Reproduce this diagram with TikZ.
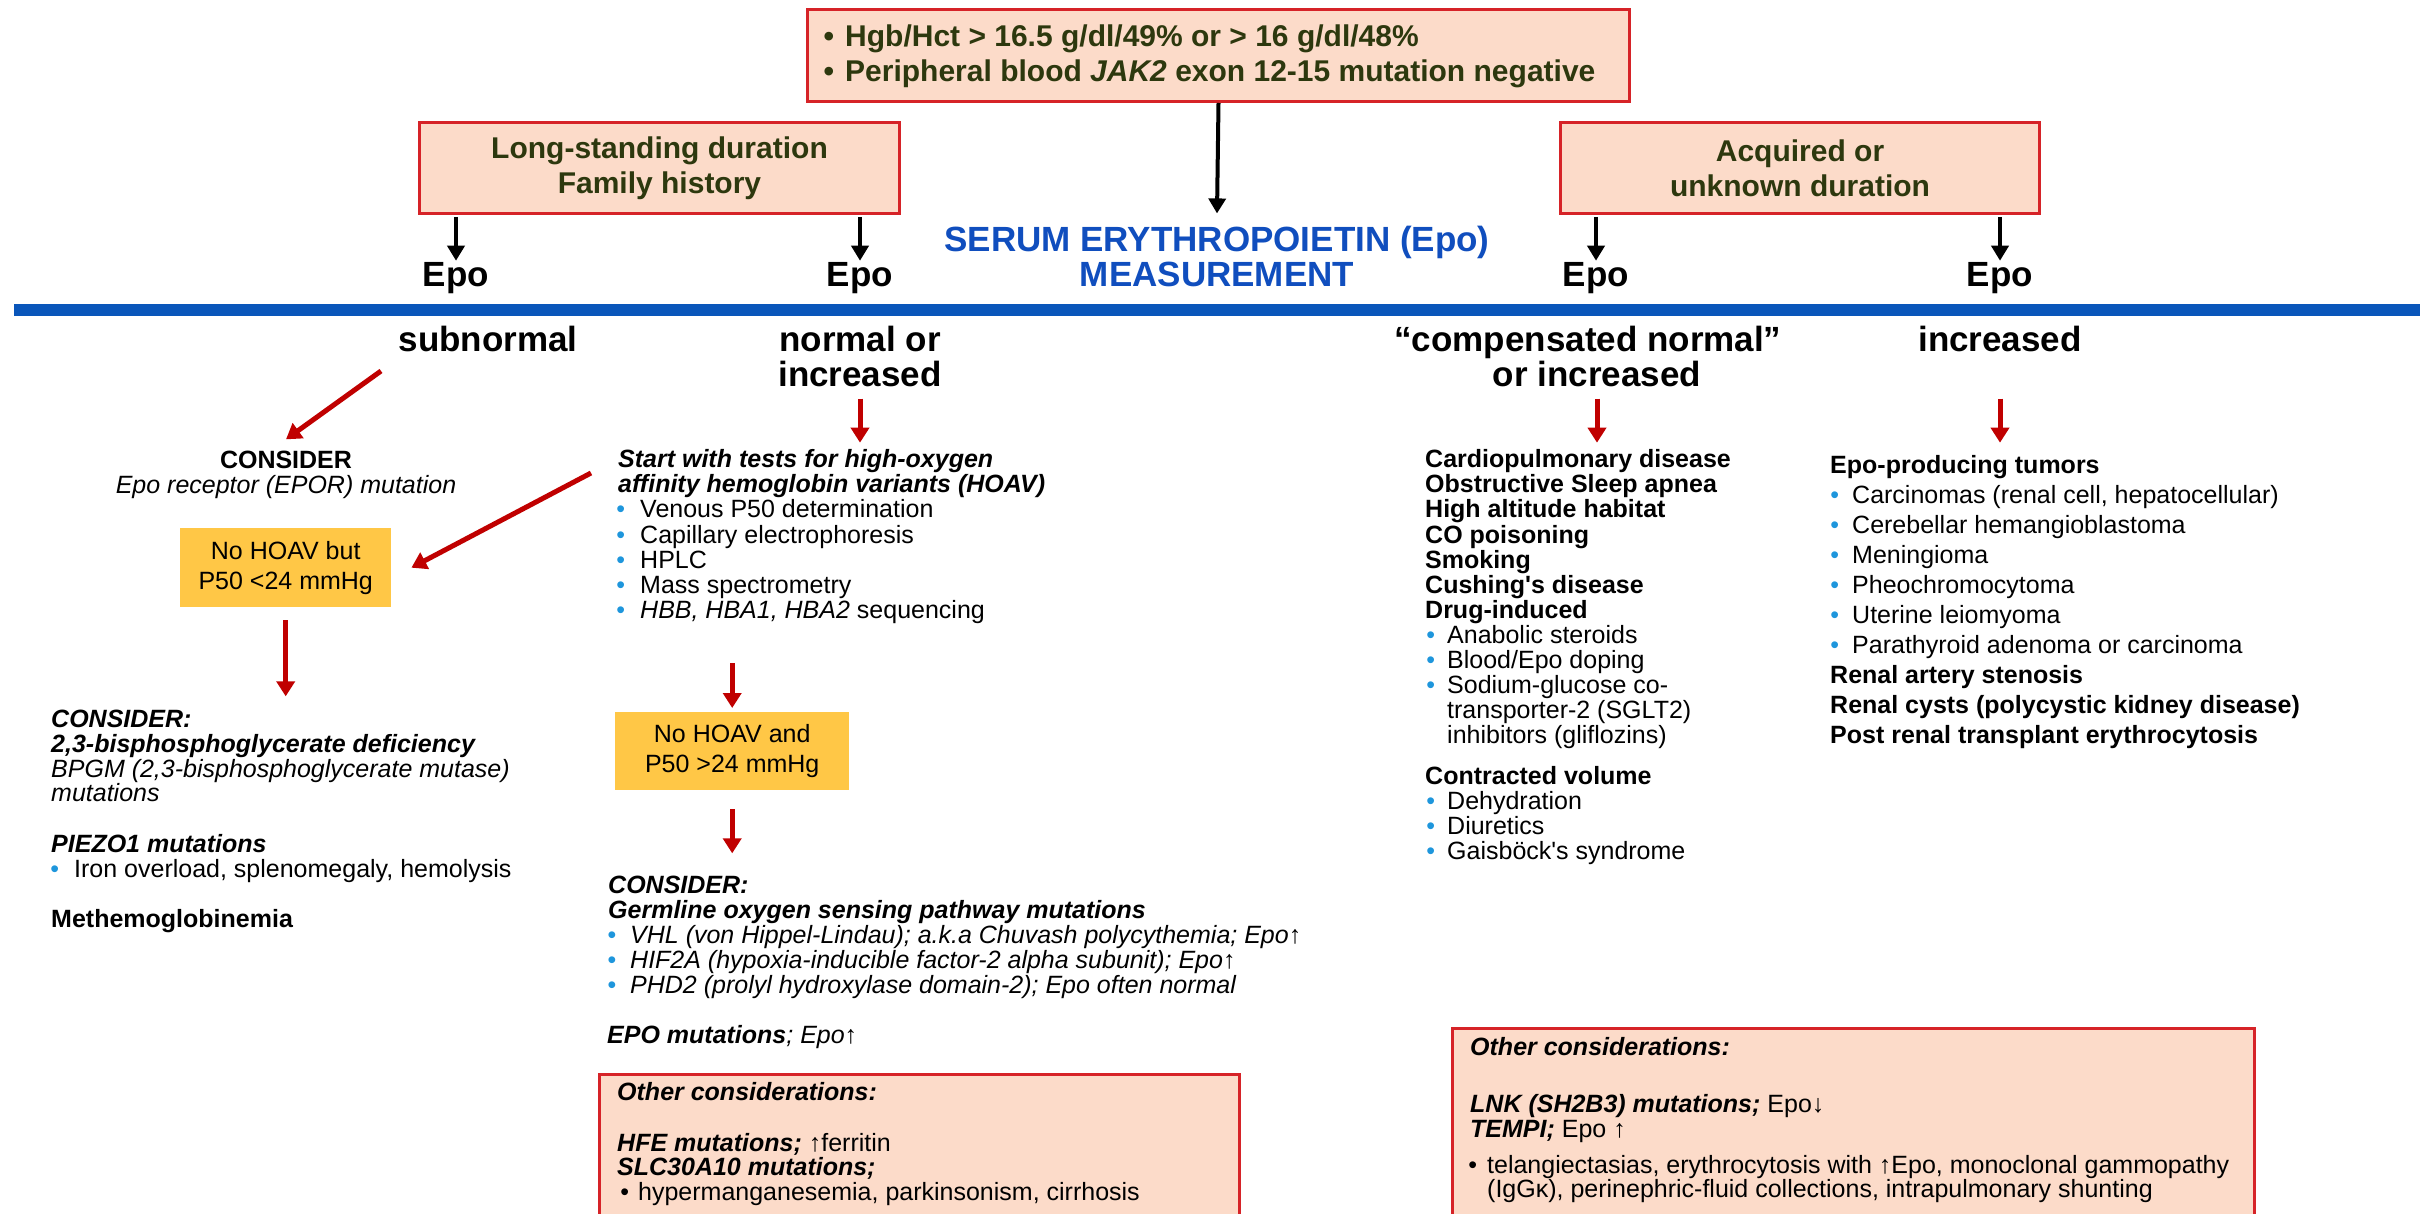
\documentclass[tikz,border=0pt]{standalone}
\usepackage{fontspec}
\setmainfont{Liberation Sans}[Ligatures=TeXOff]
\usetikzlibrary{arrows.meta,calc}
\definecolor{boxfill}{RGB}{252,219,201}
\definecolor{boxred}{RGB}{214,35,40}
\definecolor{olive}{RGB}{45,56,14}
\definecolor{goldbox}{RGB}{255,199,70}
\definecolor{redarr}{RGB}{192,0,0}
\definecolor{blueline}{RGB}{10,86,186}
\definecolor{bluetext}{RGB}{16,78,190}
\definecolor{bulblue}{RGB}{30,150,220}
\newcommand\myBody{\fontsize{25}{25}\selectfont}
\newcommand\myBodyL{\fontsize{25}{30}\selectfont}
\newcommand\myHead{\fontsize{35}{35}\selectfont\bfseries}
\newcommand\myBox{\fontsize{30}{35}\selectfont\bfseries}
\newcommand\bul[1][13pt]{\llap{\textcolor{bulblue}{•}\hspace{#1}}}
\newcommand\kbul[1][9pt]{\llap{•\hspace{#1}}}
\begin{document}
\begin{tikzpicture}[x=1pt,y=-1pt,
  lbl/.style={inner sep=0pt, anchor=base west, font=\myBody},
  blbl/.style={inner sep=0pt, anchor=base west, font=\myBody\bfseries},
  bilbl/.style={inner sep=0pt, anchor=base west, font=\myBody\bfseries\itshape},
  ilbl/.style={inner sep=0pt, anchor=base west, font=\myBody\itshape},
  clbl/.style={inner sep=0pt, anchor=base, font=\myBody},
  head/.style={inner sep=0pt, anchor=base, font=\myHead},
  boxtxt/.style={inner sep=0pt, anchor=base west, font=\myBox, text=olive},
  pbox/.style={draw=boxred, line width=3pt, fill=boxfill, anchor=north west},
  pboxt/.style={pbox, align=center, font=\myBox, text=olive},
  gbox/.style={fill=goldbox, draw=none, anchor=north west, align=center, font=\myBodyL},
  blkarr/.style={draw=black, line width=4pt, -{Triangle[length=15pt,width=17pt]}},
  redarr/.style={draw=redarr, line width=5pt, -{Triangle[length=15pt,width=18pt]}},
]
\useasboundingbox (0,0) rectangle (2431,1214);
\clip (0,0) rectangle (2431,1214);
\fill[white] (0,0) rectangle (2431,1214);

% ---- top boxes
\node[pbox, minimum width=822pt, minimum height=92pt] (top) at (806,8) {};
\node[boxtxt] (top1) at (845,47) {\llap{•\hspace{11pt}}Hgb/Hct > 16.5 g/dl/49\% or > 16 g/dl/48\%};
\node[boxtxt] (top2) at (845,82) {\llap{•\hspace{11pt}}Peripheral blood \textit{JAK2} exon 12-15 mutation negative};

\node[pboxt, minimum width=480pt, minimum height=91pt] (lbox) at (418,121) {Long-standing duration\\Family history};
\node[pboxt, minimum width=479pt, minimum height=91pt] (rbox) at (1559,121) {Acquired or\\unknown duration};

% ---- blue heading and line
\node[head, text=bluetext] (ser1) at (1217,252) {SERUM ERYTHROPOIETIN (Epo)};
\node[head, text=bluetext] (ser2) at (1217,287) {MEASUREMENT};
\draw[blueline, line width=12pt] (14,310) -- (2420,310);

\node[head] (e1) at (456,287) {Epo};
\node[head] (e2) at (860,287) {Epo};
\node[head] (e3) at (1596,287) {Epo};
\node[head] (e4) at (2000,287) {Epo};

\draw[blkarr] (top.south) -- ([yshift=13pt]ser1.north);
\draw[blkarr] ([yshift=-2pt]lbox.south -| e1) -- ([yshift=2pt]e1.north);
\draw[blkarr] ([yshift=-2pt]lbox.south -| e2) -- ([yshift=2pt]e2.north);
\draw[blkarr] ([yshift=-2pt]rbox.south -| e3) -- ([yshift=2pt]e3.north);
\draw[blkarr] ([yshift=-2pt]rbox.south -| e4) -- ([yshift=2pt]e4.north);

% ---- result headings
\node[head] (sub) at (488,352) {subnormal};
\node[head] (nrm1) at (860,352) {normal or};
\node[head] (nrm2) at (860,387) {increased};
\node[head] (cmp1) at (1588,352) {“compensated normal”};
\node[head] (cmp2) at (1597,387) {or increased};
\node[head] (incR) at (2000,352) {increased};

% ---- left column
\node[clbl, font=\myBody\bfseries] (cons1) at (286,468) {CONSIDER};
\node[clbl, font=\myBody\itshape] (epor) at (286,493) {Epo receptor (EPOR) mutation};
\node[gbox, minimum width=211pt, minimum height=79pt] (gb1) at (180,528) {No HOAV but\\P50 <24 mmHg};
\node[bilbl] (cons2) at (51,727) {CONSIDER:};
\node[bilbl] (bpg1) at (51,752) {2,3-bisphosphoglycerate deficiency};
\node[ilbl] (bpg2) at (51,777) {BPGM (2,3-bisphosphoglycerate mutase)};
\node[ilbl] (bpg3) at (51,801) {mutations};
\node[bilbl] (pz1) at (51,852) {PIEZO1 mutations};
\node[lbl] (pz2) at (74,877) {\bul[15pt]Iron overload, splenomegaly, hemolysis};
\node[blbl] (meth) at (51,927) {Methemoglobinemia};

% ---- middle column
\node[bilbl] (st1) at (618,467) {Start with tests for high-oxygen};
\node[bilbl] (st2) at (618,492) {affinity hemoglobin variants (HOAV)};
\node[lbl] (t1) at (640,517) {\bul[15pt]Venous P50 determination};
\node[lbl] (t2) at (640,543) {\bul[15pt]Capillary electrophoresis};
\node[lbl] (t3) at (640,568) {\bul[15pt]HPLC};
\node[lbl] (t4) at (640,593) {\bul[15pt]Mass spectrometry};
\node[lbl] (t5) at (640,618) {\bul[15pt]\textit{HBB, HBA1, HBA2} sequencing};
\node[gbox, minimum width=234pt, minimum height=78pt] (gb2) at (615,712) {No HOAV and\\P50 >24 mmHg};
\node[bilbl] (cons3) at (608,893) {CONSIDER:};
\node[bilbl] (germ) at (608,918) {Germline oxygen sensing pathway mutations};
\node[ilbl] (g1) at (630,943) {\bul[14pt]VHL (von Hippel-Lindau); a.k.a Chuvash polycythemia; Epo↑};
\node[ilbl] (g2) at (630,968) {\bul[14pt]HIF2A (hypoxia-inducible factor-2 alpha subunit); Epo↑};
\node[ilbl] (g3) at (630,993) {\bul[14pt]PHD2 (prolyl hydroxylase domain-2); Epo often normal};
\node[ilbl] (epom) at (607,1043) {\textbf{EPO mutations}; Epo↑};

\node[pbox, minimum width=640pt, minimum height=220pt] (oth1) at (598,1073) {};
\node[bilbl] (o1a) at (617,1100) {Other considerations:};
\node[lbl] (o1b) at (617,1151) {\textbf{\textit{HFE mutations;}} ↑ferritin};
\node[bilbl] (o1c) at (617,1175) {SLC30A10 mutations;};
\node[lbl] (o1d) at (638,1200) {\kbul[9pt]hypermanganesemia, parkinsonism, cirrhosis};

% ---- compensated column
\node[blbl] (cp1) at (1425,467) {Cardiopulmonary disease};
\node[blbl] (cp2) at (1425,492) {Obstructive Sleep apnea};
\node[blbl] (cp3) at (1425,517) {High altitude habitat};
\node[blbl] (cp4) at (1425,543) {CO poisoning};
\node[blbl] (cp5) at (1425,568) {Smoking};
\node[blbl] (cp6) at (1425,593) {Cushing's disease};
\node[blbl] (cp7) at (1425,618) {Drug-induced};
\node[lbl] (cp8) at (1447,643) {\bul[12pt]Anabolic steroids};
\node[lbl] (cp9) at (1447,668) {\bul[12pt]Blood/Epo doping};
\node[lbl] (cp10) at (1447,693) {\bul[12pt]Sodium-glucose co-};
\node[lbl] (cp11) at (1447,718) {transporter-2 (SGLT2)};
\node[lbl] (cp12) at (1447,743) {inhibitors (gliflozins)};
\node[blbl] (cp13) at (1425,784) {Contracted volume};
\node[lbl] (cp14) at (1447,809) {\bul[12pt]Dehydration};
\node[lbl] (cp15) at (1447,834) {\bul[12pt]Diuretics};
\node[lbl] (cp16) at (1447,859) {\bul[12pt]Gaisböck's syndrome};

% ---- increased column
\node[blbl] (ep1) at (1830,473) {Epo-producing tumors};
\node[lbl] (ep2) at (1852,503) {\bul[13pt]Carcinomas (renal cell, hepatocellular)};
\node[lbl] (ep3) at (1852,533) {\bul[13pt]Cerebellar hemangioblastoma};
\node[lbl] (ep4) at (1852,563) {\bul[13pt]Meningioma};
\node[lbl] (ep5) at (1852,593) {\bul[13pt]Pheochromocytoma};
\node[lbl] (ep6) at (1852,623) {\bul[13pt]Uterine leiomyoma};
\node[lbl] (ep7) at (1852,653) {\bul[13pt]Parathyroid adenoma or carcinoma};
\node[blbl] (ep8) at (1830,683) {Renal artery stenosis};
\node[blbl] (ep9) at (1830,713) {Renal cysts (polycystic kidney disease)};
\node[blbl] (ep10) at (1830,743) {Post renal transplant erythrocytosis};

\node[pbox, minimum width=802pt, minimum height=250pt] (oth2) at (1451,1027) {};
\node[bilbl] (o2a) at (1470,1055) {Other considerations:};
\node[lbl] (o2b) at (1470,1112) {\textbf{\textit{LNK (SH2B3) mutations;}} Epo↓};
\node[lbl] (o2c) at (1470,1137) {\textbf{\textit{TEMPI;}} Epo ↑};
\node[lbl] (o2d) at (1487,1173) {\kbul[10pt]telangiectasias, erythrocytosis with ↑Epo, monoclonal gammopathy};
\node[lbl] (o2e) at (1487,1197) {(IgGκ), perinephric-fluid collections, intrapulmonary shunting};

% ---- red arrows
\draw[redarr] ([xshift=-107pt,yshift=-19pt]sub.base) -- ([yshift=11pt]cons1.north);
\draw[redarr] ([yshift=-11pt]nrm2.south) -- ([yshift=6pt]nrm2.south |- st1.north);
\draw[redarr] ([yshift=-11pt]cmp2.south) -- ([yshift=6pt]cmp2.south |- cp1.north);
\draw[redarr] ([yshift=-46pt]incR.south) -- ([yshift=12pt]incR.south |- ep1.north);
\draw[redarr] ([xshift=-27pt,yshift=-6pt]st1.base west) -- ([xshift=20pt]gb1.east);
\draw[redarr] ([yshift=-13pt]gb1.south) -- ([yshift=13pt]gb1.south |- cons2.north);
\draw[redarr] ([yshift=-40pt]gb2.north |- t5.south) -- ([yshift=4pt]gb2.north);
\draw[redarr] ([yshift=-19pt]gb2.south) -- ([yshift=22pt]gb2.south |- cons3.north);
\end{tikzpicture}
\end{document}
